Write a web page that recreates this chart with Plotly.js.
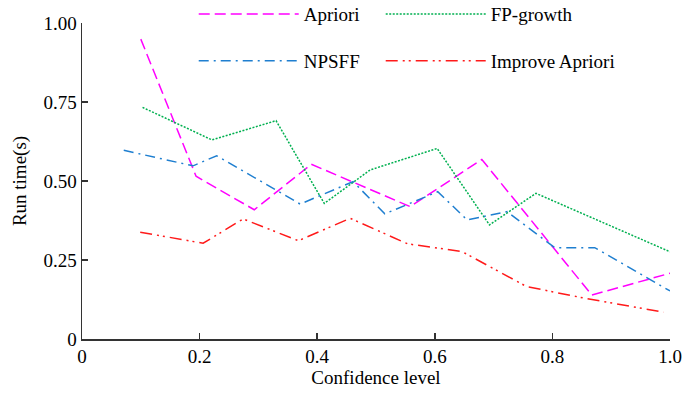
<!DOCTYPE html>
<html>
<head>
<meta charset="utf-8">
<script src="https://cdn.plot.ly/plotly-3.0.1.min.js"></script>
<style>html,body{margin:0;padding:0;background:#fff;}#chart{width:684px;height:394px;}</style>
</head>
<body>
<div id="chart"></div>
<script>
const seriesNames = ["Apriori", "FP-growth", "NPSFF", "Improve Apriori"];

const aprioriX = [0.100, 0.194, 0.293, 0.390, 0.558, 0.680, 0.867, 1.000];
const aprioriY = [0.949, 0.515, 0.409, 0.553, 0.419, 0.568, 0.139, 0.208];

const fpX = [0.103, 0.221, 0.330, 0.412, 0.490, 0.604, 0.693, 0.772, 1.000];
const fpY = [0.733, 0.630, 0.691, 0.429, 0.535, 0.603, 0.361, 0.461, 0.276];

const npsffX = [0.071, 0.189, 0.229, 0.371, 0.461, 0.515, 0.605, 0.655, 0.723, 0.804, 0.872, 1.000];
const npsffY = [0.597, 0.548, 0.580, 0.427, 0.498, 0.396, 0.466, 0.377, 0.403, 0.289, 0.289, 0.152];

const improveX = [0.099, 0.206, 0.274, 0.368, 0.456, 0.554, 0.646, 0.756, 0.855, 0.989];
const improveY = [0.338, 0.303, 0.380, 0.311, 0.382, 0.301, 0.277, 0.166, 0.129, 0.085];

const xTickVals = [0, 0.2, 0.4, 0.6, 0.8, 1.0];
const xTickText = ["0", "0.2", "0.4", "0.6", "0.8", "1.0"];
const yTickVals = [0, 0.25, 0.5, 0.75, 1.0];
const yTickText = ["0", "0.25", "0.50", "0.75", "1.00"];

const FONT = "Liberation Serif, Times New Roman, serif";
const FS = 19;

const traces = [
  {x: aprioriX, y: aprioriY, name: seriesNames[0], mode: "lines", legend: "legend",
   line: {color: "#ff00ff", width: 1.5, dash: "11px,5px"}},
  {x: fpX, y: fpY, name: seriesNames[1], mode: "lines", legend: "legend", legendwidth: 140,
   line: {color: "#00b050", width: 1.5, dash: "2px,1.5px"}},
  {x: npsffX, y: npsffY, name: seriesNames[2], mode: "lines", legend: "legend2",
   line: {color: "#1f7fd0", width: 1.5, dash: "10px,5px,2px,5px"}},
  {x: improveX, y: improveY, name: seriesNames[3], mode: "lines", legend: "legend2", legendwidth: 140,
   line: {color: "#ff1a1a", width: 1.5, dash: "12px,5px,2px,4px,2px,5px"}}
];

const legendCommon = {
  orientation: "h", xanchor: "left", yanchor: "middle",
  bgcolor: "rgba(0,0,0,0)", borderwidth: 0,
  font: {family: FONT, size: FS, color: "#000"},
  itemwidth: 100, entrywidth: 72, entrywidthmode: "pixels",
  itemclick: false, itemdoubleclick: false
};

const layout = {
  width: 684, height: 394,
  margin: {l: 82, r: 14, t: 23, b: 55, autoexpand: false},
  paper_bgcolor: "#fff", plot_bgcolor: "#fff",
  font: {family: FONT, size: FS, color: "#000"},
  showlegend: true,
  legend: Object.assign({}, legendCommon, {x: 0.19, y: 1.028}),
  legend2: Object.assign({}, legendCommon, {x: 0.19, y: 0.88}),
  xaxis: {
    range: [0, 1.0], tickvals: xTickVals, ticktext: xTickText,
    showgrid: false, zeroline: false, showline: true,
    linecolor: "#333", linewidth: 1.5, ticks: "inside", ticklen: 6, tickwidth: 1.5, tickcolor: "#333",
    tickfont: {family: FONT, size: FS, color: "#000"},
    title: {text: "Confidence level", font: {family: FONT, size: FS, color: "#000"}, standoff: 3}
  },
  yaxis: {
    range: [0, 1.0], tickvals: yTickVals, ticktext: yTickText,
    showgrid: false, zeroline: false, showline: true,
    linecolor: "#333", linewidth: 1.5, ticks: "inside", ticklen: 6, tickwidth: 1.5, tickcolor: "#333",
    tickfont: {family: FONT, size: FS, color: "#000"},
    title: {text: "Run time(s)", font: {family: FONT, size: FS, color: "#000"}, standoff: 12}
  }
};

Plotly.newPlot("chart", traces, layout, {displayModeBar: false, staticPlot: true});
</script>
</body>
</html>
